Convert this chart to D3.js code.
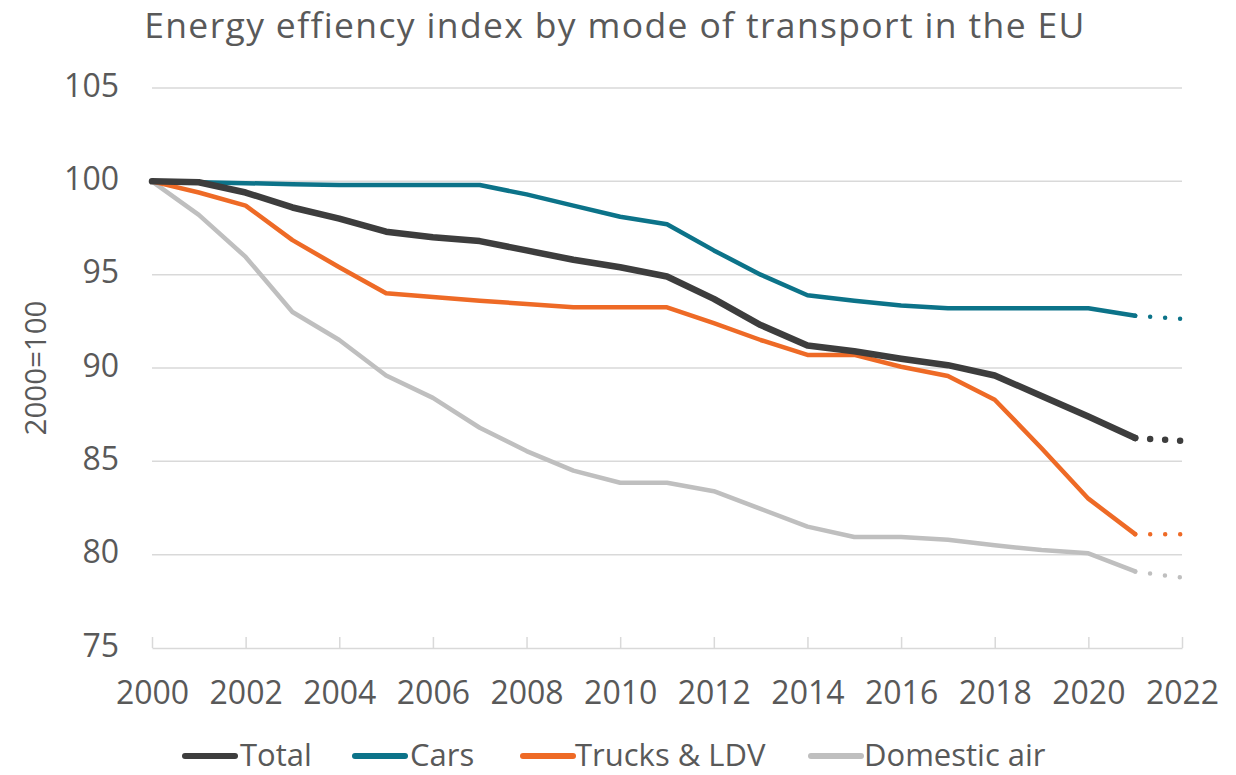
<!DOCTYPE html>
<html>
<head>
<meta charset="utf-8">
<script src="https://cdn.jsdelivr.net/npm/d3@7"></script>
<style>
  html, body { margin: 0; padding: 0; background: #fff; }
  svg { display: block; font-family: "Open Sans", sans-serif; }
</style>
</head>
<body>
<svg id="chart" width="1236" height="775"></svg>
<script>
// ---- data ----
const years = [2000,2001,2002,2003,2004,2005,2006,2007,2008,2009,2010,2011,2012,2013,2014,2015,2016,2017,2018,2019,2020,2021];
const projYears = [2021, 2022];
const seriesNames = ["Total", "Cars", "Trucks & LDV", "Domestic air"];
const totalValues = [100,99.95,99.4,98.6,98.0,97.3,97.0,96.8,96.3,95.8,95.4,94.9,93.7,92.3,91.2,90.9,90.5,90.15,89.6,88.5,87.4,86.25];
const carsValues = [100,99.95,99.9,99.85,99.8,99.8,99.8,99.8,99.3,98.7,98.1,97.7,96.3,95.0,93.9,93.6,93.35,93.2,93.2,93.2,93.2,92.8];
const trucksValues = [100,99.4,98.7,96.85,95.4,94.0,93.8,93.6,93.43,93.25,93.25,93.25,92.4,91.5,90.7,90.7,90.07,89.57,88.3,85.7,83.0,81.1];
const airValues = [100,98.2,95.95,93.0,91.5,89.6,88.4,86.8,85.55,84.5,83.85,83.85,83.4,82.45,81.5,80.95,80.95,80.8,80.5,80.25,80.07,79.1];
const totalProj = [86.25, 86.1];
const carsProj = [92.8, 92.63];
const trucksProj = [81.1, 81.1];
const airProj = [79.1, 78.77];
const yTicks = [75, 80, 85, 90, 95, 100, 105];
const xTicks = [2000,2002,2004,2006,2008,2010,2012,2014,2016,2018,2020,2022];
const titleText = "Energy effiency index by mode of transport in the EU";
const yAxisTitle = "2000=100";

const colors = ["#3d3d3d", "#0c7389", "#ee6a26", "#bfbfbf"];
const widths = [6.5, 4.5, 4.5, 4.5];

const svg = d3.select("#chart");
const textColor = "#595959";

const x = d3.scaleLinear().domain([2000, 2022]).range([152, 1182]);
const y = d3.scaleLinear().domain([75, 105]).range([648, 88]);

// title
svg.append("text")
  .attr("x", 615).attr("y", 38)
  .attr("text-anchor", "middle")
  .attr("font-size", 35.5)
  .attr("letter-spacing", 1.35)
  .attr("fill", textColor)
  .text(titleText);

// gridlines
svg.append("g").selectAll("line")
  .data(yTicks.filter(d => d > 75))
  .join("line")
  .attr("x1", 152).attr("x2", 1182)
  .attr("y1", d => y(d)).attr("y2", d => y(d))
  .attr("stroke", "#d9d9d9").attr("stroke-width", 1.5);

// y axis labels
const yAxis = d3.axisLeft(y).tickValues(yTicks).tickSize(0).tickPadding(0);
const gy = svg.append("g").attr("transform", "translate(119,0)").call(yAxis);
gy.select(".domain").remove();
gy.selectAll("text").attr("font-size", 32).attr("fill", textColor)
  .attr("font-family", "Open Sans, sans-serif").attr("dy", "0.25em");

// x axis
const xAxis = d3.axisBottom(x).tickValues(xTicks).tickFormat(d3.format("d")).tickSize(0).tickPadding(0);
const gx = svg.append("g").attr("transform", "translate(0,648)").call(xAxis);
gx.select(".domain").attr("stroke", "#d9d9d9").attr("stroke-width", 1.5);
gx.selectAll("text").attr("font-size", 32).attr("fill", textColor)
  .attr("font-family", "Open Sans, sans-serif").attr("y", 56).attr("dy", 0);
gx.selectAll(".tick").append("line")
  .attr("y1", 0).attr("y2", -11)
  .attr("stroke", "#d9d9d9").attr("stroke-width", 1.5);

// y axis title
svg.append("text")
  .attr("transform", "translate(46,368) rotate(-90)")
  .attr("text-anchor", "middle")
  .attr("font-size", 29.5)
  .attr("fill", textColor)
  .text(yAxisTitle);

// lines
const allValues = [totalValues, carsValues, trucksValues, airValues];
const allProj = [totalProj, carsProj, trucksProj, airProj];
const line = d3.line().x(d => x(d[0])).y(d => y(d[1]));

const order = [3, 2, 1, 0];
order.forEach(i => {
  const pts = years.map((yr, k) => [yr, allValues[i][k]]);
  svg.append("path")
    .attr("d", line(pts))
    .attr("fill", "none")
    .attr("stroke", colors[i])
    .attr("stroke-width", widths[i])
    .attr("stroke-linejoin", "round")
    .attr("stroke-linecap", "round");
  const pp = projYears.map((yr, k) => [yr, allProj[i][k]]);
  svg.append("path")
    .attr("d", line(pp))
    .attr("fill", "none")
    .attr("stroke", colors[i])
    .attr("stroke-width", widths[i])
    .attr("stroke-linecap", "round")
    .attr("stroke-dasharray", "0 15");
});

// legend
const legendLineX = [182, 352, 520, 808];
const legendTextX = [240, 410, 575, 864];
const lg = svg.append("g");
seriesNames.forEach((name, i) => {
  lg.append("line")
    .attr("x1", legendLineX[i] + 3).attr("x2", legendLineX[i] + 53)
    .attr("y1", 756).attr("y2", 756)
    .attr("stroke", colors[i]).attr("stroke-width", 6)
    .attr("stroke-linecap", "round");
  lg.append("text")
    .attr("x", legendTextX[i]).attr("y", 765.5)
    .attr("font-size", 31).attr("fill", textColor)
    .text(name);
});
</script>
</body>
</html>
